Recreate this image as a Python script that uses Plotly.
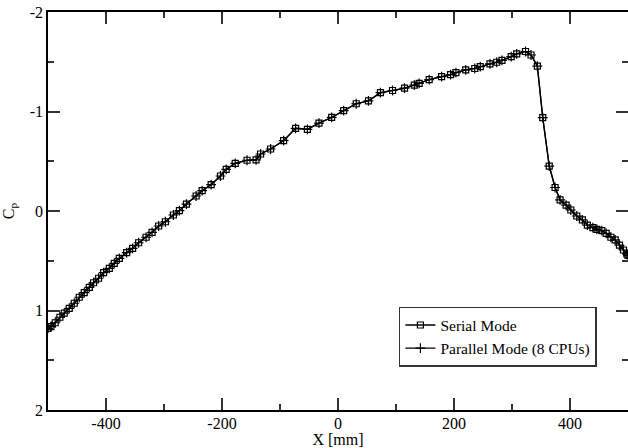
import plotly.graph_objects as go

# Data (X in mm, Cp)
x_mm = [-500, -495, -487.6, -479.5, -472, -463.4, -454.7, -446.1, -437.5, -428.8,
        -421.4, -412.8, -404.1, -394.3, -385.7, -377, -364.4, -354.1, -343.7, -330.9,
        -320.6, -309.2, -297.6, -283.8, -273.4, -261.3, -244.6, -234.2, -218.7, -202.6,
        -192.7, -177.2, -156.8, -141.3, -133.5, -116.2, -93.8, -73.1, -52.8, -32.8,
        -10.9, 9.8, 31.4, 52.5, 73.2, 94, 114.7, 131.6, 139.9, 157.2,
        178.6, 194.1, 203.3, 220.2, 235.8, 245.3, 262, 273.6, 282.7, 298.6,
        308.1, 323.3, 332.8, 343.7, 353, 364.2, 374.3, 382.9, 393.3, 401.4,
        411.7, 421.4, 430, 439.4, 446.3, 454.9, 462.4, 470.5, 477.9, 485.3,
        492.2, 498.1, 500]
serial_cp = [1.179, 1.163, 1.123, 1.068, 1.027, 0.978, 0.927, 0.867, 0.821, 0.767,
             0.721, 0.676, 0.620, 0.576, 0.526, 0.476, 0.419, 0.375, 0.319, 0.264,
             0.214, 0.151, 0.108, 0.040, -0.003, -0.070, -0.151, -0.204, -0.266, -0.352,
             -0.419, -0.479, -0.510, -0.513, -0.573, -0.623, -0.707, -0.831, -0.821, -0.884,
             -0.940, -1.008, -1.078, -1.106, -1.189, -1.211, -1.234, -1.266, -1.283, -1.320,
             -1.350, -1.370, -1.390, -1.419, -1.432, -1.450, -1.479, -1.495, -1.513, -1.551,
             -1.580, -1.603, -1.568, -1.457, -0.938, -0.452, -0.236, -0.111, -0.060, -0.010,
             0.050, 0.090, 0.141, 0.168, 0.184, 0.198, 0.224, 0.264, 0.291, 0.342,
             0.392, 0.432, 0.445]
parallel_cp = [1.179, 1.163, 1.123, 1.068, 1.027, 0.978, 0.927, 0.867, 0.821, 0.767,
               0.721, 0.676, 0.620, 0.576, 0.526, 0.476, 0.419, 0.375, 0.319, 0.264,
               0.214, 0.151, 0.108, 0.040, -0.003, -0.070, -0.151, -0.204, -0.266, -0.352,
               -0.419, -0.479, -0.510, -0.513, -0.573, -0.623, -0.707, -0.831, -0.821, -0.884,
               -0.940, -1.008, -1.078, -1.106, -1.189, -1.211, -1.234, -1.266, -1.283, -1.320,
               -1.350, -1.370, -1.390, -1.419, -1.432, -1.450, -1.479, -1.495, -1.513, -1.551,
               -1.580, -1.603, -1.568, -1.457, -0.938, -0.452, -0.236, -0.111, -0.060, -0.010,
               0.050, 0.090, 0.141, 0.168, 0.184, 0.198, 0.224, 0.264, 0.291, 0.342,
               0.392, 0.432, 0.445]

x_ticks = [-400, -200, 0, 200, 400]
y_ticks = [-2, -1, 0, 1, 2]

FONT = "Liberation Serif, Times New Roman, serif"

fig = go.Figure()
fig.add_trace(go.Scatter(
    x=x_mm, y=serial_cp, mode="lines+markers", name="Serial Mode",
    line=dict(color="black", width=1.4),
    marker=dict(symbol="square-open", size=6, color="black", line=dict(width=1.2)),
))
fig.add_trace(go.Scatter(
    x=x_mm, y=parallel_cp, mode="lines+markers", name="Parallel Mode (8 CPUs)",
    line=dict(color="black", width=1.2),
    marker=dict(symbol="cross-thin-open", size=7, color="black", line=dict(width=1.2, color="black")),
))

axis_common = dict(
    showline=True, linecolor="black", linewidth=1.5, mirror="ticks",
    ticks="inside", tickcolor="#333", tickwidth=1.5, ticklen=12,
    showgrid=False, zeroline=False, automargin=False,
    tickfont=dict(family=FONT, size=16, color="black"),
)

fig.update_xaxes(
    range=[-500, 500], tickvals=x_ticks, ticktext=[str(v) for v in x_ticks],
    minor=dict(ticks="inside", ticklen=6, dtick=100, tick0=0, tickcolor="#333", tickwidth=1.5),
    title=dict(text="X [mm]", font=dict(family=FONT, size=16, color="black"), standoff=2),
    ticklabelstandoff=-2,
    **axis_common,
)
fig.update_yaxes(
    range=[2, -2], tickvals=y_ticks, ticktext=[str(v) for v in y_ticks],
    minor=dict(ticks="inside", ticklen=6, dtick=0.5, tick0=0, tickcolor="#333", tickwidth=1.5),
    title=dict(text="C<sub>p</sub>", font=dict(family=FONT, size=16, color="black"), standoff=12),
    **axis_common,
)

fig.update_layout(
    width=628, height=448,
    margin=dict(l=48, r=0, t=12, b=38),
    paper_bgcolor="white", plot_bgcolor="white",
    font=dict(family=FONT, size=16, color="black"),
    showlegend=True,
    legend=dict(
        x=0.605, y=0.259, xanchor="left", yanchor="top",
        bgcolor="white", bordercolor="#333", borderwidth=1.5,
        font=dict(family=FONT, size=15.5, color="black"),
        tracegroupgap=0, itemwidth=30,
    ),
)

fig.write_html("out.html", config={"displayModeBar": False},
               post_script="document.body.style.margin='0';")
